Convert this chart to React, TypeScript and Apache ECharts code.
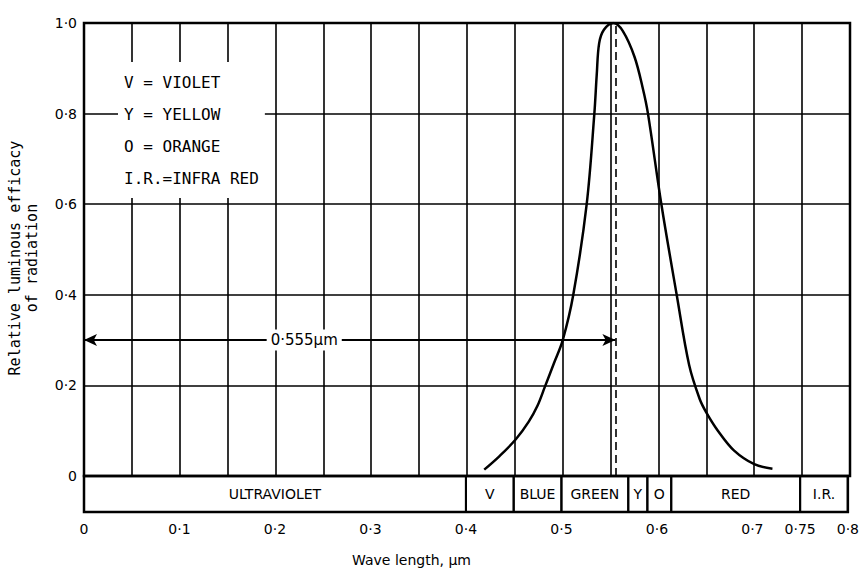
import React, { useEffect, useRef } from "react";
import * as echarts from "echarts";

// ---- data ----
const curveX = [0.418, 0.434, 0.451, 0.4645, 0.4736, 0.481, 0.491, 0.5, 0.511, 0.525, 0.533, 0.5355, 0.538, 0.543, 0.553, 0.5628, 0.575, 0.5837, 0.589, 0.603, 0.619, 0.632, 0.643, 0.65, 0.662, 0.679, 0.7, 0.719];
const curveY = [0.014, 0.044, 0.081, 0.12, 0.155, 0.195, 0.25, 0.3, 0.4, 0.6, 0.8, 0.886, 0.955, 0.985, 1.0, 0.982, 0.925, 0.855, 0.8, 0.6, 0.4, 0.245, 0.17, 0.14, 0.1, 0.056, 0.026, 0.016];

const bandStarts = [0, 0.4, 0.45, 0.5, 0.57, 0.59, 0.615, 0.75];
const bandEnds = [0.4, 0.45, 0.5, 0.57, 0.59, 0.615, 0.75, 0.8];
const bandLabels = ["ULTRAVIOLET", "V", "BLUE", "GREEN", "Y", "O", "RED", "I.R."];

const xLabelValues = [0, 0.1, 0.2, 0.3, 0.4, 0.5, 0.6, 0.7, 0.75, 0.8];
const legendLines = ["V = VIOLET", "Y = YELLOW", "O = ORANGE", "I.R.=INFRA RED"];

const peakWavelength = 0.555;
const arrowLevel = 0.3;
const arrowLabel = "0·555µm";
const arrowLabelAt = 0.23;

const yTitle1 = "Relative luminous efficacy";
const yTitle2 = "of radiation";
const xTitle = "Wave length, µm";

const fmt = (v: number) => {
  const r = Math.round(v * 100) / 100;
  if (r === 0) return "0";
  return r.toString().replace(".", "·");
};

export default function App() {
  const ref = useRef<HTMLDivElement>(null);
  useEffect(() => {
    if (!ref.current) return;
    const chart = echarts.init(ref.current, null, { renderer: "svg" });
    const L = 84, W = 766, T = 23, H = 453, BH = 36;
    const curve = curveX.map((x, i) => [x, curveY[i]]);
    const band = bandStarts.map((s, i) => [s, bandEnds[i], 0, 1]);
    chart.setOption({
      animation: false,
      backgroundColor: "#fff",
      grid: [
        { left: L, top: T, width: W, height: H, show: true, borderColor: "#000", borderWidth: 2.5, backgroundColor: "transparent" },
        { left: L, top: T + H, width: W, height: BH, show: true, borderColor: "#000", borderWidth: 2.5, backgroundColor: "transparent" },
      ],
      xAxis: [
        {
          type: "value", gridIndex: 0, min: 0, max: 0.8, interval: 0.05,
          axisLine: { show: false }, axisTick: { show: false }, axisLabel: { show: false },
          splitLine: { show: true, lineStyle: { color: "#000", width: 1.6 } },
        },
        {
          type: "value", gridIndex: 1, min: 0, max: 0.8, interval: 0.05,
          axisLine: { show: false }, axisTick: { show: false }, splitLine: { show: false },
          axisLabel: {
            show: true, margin: 10, color: "#000", fontSize: 14, fontFamily: "DejaVu Sans",
            formatter: (v: number) => {
              const r = Math.round(v * 100) / 100;
              return xLabelValues.some((t) => Math.abs(t - r) < 1e-6) ? fmt(r) : "";
            },
          },
        },
      ],
      yAxis: [
        {
          type: "value", gridIndex: 0, min: 0, max: 1, interval: 0.2,
          axisLine: { show: false }, axisTick: { show: false },
          splitLine: { show: true, lineStyle: { color: "#000", width: 1.6 } },
          axisLabel: {
            margin: 7, color: "#000", fontSize: 14, fontFamily: "DejaVu Sans",
            formatter: (v: number) => (v === 0 ? "0" : (Math.round(v * 10) / 10).toFixed(1).replace(".", "·")),
          },
        },
        { type: "value", gridIndex: 1, min: 0, max: 1, show: false },
      ],
      series: [
        {
          type: "line", xAxisIndex: 0, yAxisIndex: 0, data: curve, smooth: 0.35,
          showSymbol: false, symbol: "none",
          lineStyle: { color: "#000", width: 2.5 },
          z: 5,
          markLine: {
            silent: true, symbol: "none", label: { show: false },
            data: [
              [
                { coord: [peakWavelength, 0], symbol: "none", lineStyle: { color: "#000", width: 1.6, type: [8, 5] } },
                { coord: [peakWavelength, 1], symbol: "none" },
              ],
              [
                { coord: [0, arrowLevel], symbol: "arrow", symbolSize: [9, 13], lineStyle: { color: "#000", width: 1.8, type: "solid" } },
                { coord: [peakWavelength, arrowLevel], symbol: "arrow", symbolSize: [9, 13] },
              ],
            ],
          },
          markPoint: {
            silent: true, symbol: "rect", symbolSize: 1,
            itemStyle: { color: "rgba(0,0,0,0)" },
            label: {
              show: true, position: "inside", formatter: arrowLabel, color: "#000",
              fontSize: 15, fontFamily: "DejaVu Sans", backgroundColor: "#fff", padding: [3, 4],
            },
            data: [{ coord: [arrowLabelAt, arrowLevel] }],
          },
        },
        {
          type: "custom", xAxisIndex: 1, yAxisIndex: 1, data: band,
          encode: { x: [0, 1], y: [2, 3] },
          renderItem: (params: any, api: any) => {
            const s = api.value(0), e = api.value(1);
            const p0 = api.coord([s, 1]);
            const p1 = api.coord([e, 0]);
            return {
              type: "group",
              children: [
                { type: "rect", shape: { x: p0[0], y: p0[1], width: p1[0] - p0[0], height: p1[1] - p0[1] }, style: { fill: "none", stroke: "#000", lineWidth: 2 } },
                {
                  type: "text",
                  style: {
                    text: bandLabels[params.dataIndex], x: (p0[0] + p1[0]) / 2, y: (p0[1] + p1[1]) / 2,
                    align: "center", verticalAlign: "middle", textAlign: "center", textVerticalAlign: "middle",
                    fill: "#000", font: "14px 'DejaVu Sans'",
                  },
                },
              ],
            };
          },
        },
      ],
      graphic: [
        {
          type: "text", left: 118, top: 62, z: 10,
          style: {
            text: legendLines.join("\n"), font: "16px 'DejaVu Sans Mono'", lineHeight: 32,
            fill: "#000", backgroundColor: "#fff", padding: [4, 6],
          },
        },
        {
          type: "text", x: 15, y: 258, rotation: Math.PI / 2,
          style: { text: yTitle1, font: "15px 'DejaVu Sans Mono'", fill: "#000", align: "center", verticalAlign: "middle", textAlign: "center", textVerticalAlign: "middle" },
        },
        {
          type: "text", x: 32, y: 258, rotation: Math.PI / 2,
          style: { text: yTitle2, font: "15px 'DejaVu Sans Mono'", fill: "#000", align: "center", verticalAlign: "middle", textAlign: "center", textVerticalAlign: "middle" },
        },
        {
          type: "text", left: 352, top: 553,
          style: { text: xTitle, font: "14px 'DejaVu Sans'", fill: "#000" },
        },
      ],
    });
    return () => chart.dispose();
  }, []);
  return <div ref={ref} style={{ width: 862, height: 574, position: "absolute", left: 0, top: 0 }} />;
}
